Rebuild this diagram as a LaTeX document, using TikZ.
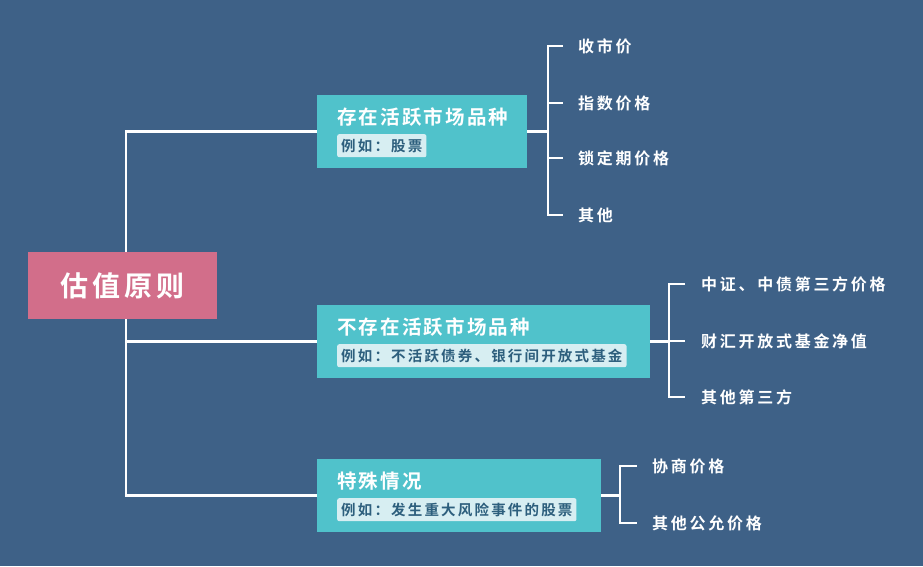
\documentclass[tikz,border=0pt]{standalone}
\usepackage{fontspec}
\setmainfont{Noto Sans CJK SC}[BoldFont={Noto Sans CJK SC Bold}]
\definecolor{bgc}{RGB}{62,97,135}
\definecolor{tealc}{RGB}{80,194,203}
\definecolor{pinkc}{RGB}{210,110,138}
\definecolor{subfill}{RGB}{215,238,242}
\definecolor{subtext}{RGB}{45,95,125}
\tikzset{
  conn/.style={draw=white, line width=2.8pt},
  bigbox/.style={fill=tealc, inner sep=0pt, anchor=north west, minimum height=73pt},
  rootbox/.style={fill=pinkc, inner sep=0pt, minimum width=189pt, minimum height=67pt, text=white,
     font=\fontsize{28}{32}\selectfont\bfseries\addfontfeatures{LetterSpace=14}},
  titletext/.style={anchor=west, inner sep=0pt, text=white,
     font=\fontsize{19.5}{23}\selectfont\bfseries\addfontfeatures{LetterSpace=11}},
  subbox/.style={anchor=north west, fill=subfill, rounded corners=2pt, inner xsep=4pt, inner ysep=0pt,
     minimum height=23pt, text=subtext,
     font=\fontsize{14.5}{17}\selectfont\bfseries\addfontfeatures{LetterSpace=15}},
  leaf/.style={anchor=west, inner sep=0pt, text=white,
     font=\fontsize{16}{19}\selectfont\bfseries\addfontfeatures{LetterSpace=17}},
}
\begin{document}
\begin{tikzpicture}[x=1pt,y=-1pt]
\fill[bgc] (0,0) rectangle (923,566);
\useasboundingbox (0,0) rectangle (923,566);

% branch boxes
\node[bigbox, minimum width=210pt] (b1) at (317,95) {};
\node[bigbox, minimum width=333pt] (b2) at (317,305) {};
\node[bigbox, minimum width=284pt] (b3) at (317,459) {};

\node[titletext] (t1) at (337,117) {存在活跃市场品种};
\node[subbox] (s1) at (337,134) {例如：股票};
\node[titletext] (t2) at (337,327) {不存在活跃市场品种};
\node[subbox] (s2) at (337,344) {例如：不活跃债券、银行间开放式基金};
\node[titletext] (t3) at (337,481) {特殊情况};
\node[subbox] (s3) at (337,498) {例如：发生重大风险事件的股票};

% trunk
\coordinate (tr) at (126,0);
\draw[conn] (b1.west) -| (tr |- b3.west) -- (b3.west);
\draw[conn] (tr |- b2.west) -- (b2.west);

% root
\node[rootbox] (root) at (122.5,285.5) {估值原则};

% leaves branch 1
\node[leaf] (l11) at (578,46) {收市价};
\node[leaf] (l12) at (578,103) {指数价格};
\node[leaf] (l13) at (578,158) {锁定期价格};
\node[leaf] (l14) at (578,215) {其他};
\coordinate (k1) at (548,0);
\draw[conn] (b1.east) -- (k1 |- b1.east);
\draw[conn] ([xshift=-15pt]l11.west) -| (k1 |- l14.west) -- ([xshift=-15pt]l14.west);
\draw[conn] (k1 |- l12.west) -- ([xshift=-15pt]l12.west);
\draw[conn] (k1 |- l13.west) -- ([xshift=-15pt]l13.west);

% leaves branch 2
\node[leaf] (l21) at (701,284) {中证、中债第三方价格};
\node[leaf] (l22) at (701,341) {财汇开放式基金净值};
\node[leaf] (l23) at (701,397) {其他第三方};
\coordinate (k2) at (669,0);
\draw[conn] (b2.east) -- (k2 |- b2.east);
\draw[conn] ([xshift=-16pt]l21.west) -| (k2 |- l23.west) -- ([xshift=-16pt]l23.west);
\draw[conn] (k2 |- l22.west) -- ([xshift=-16pt]l22.west);

% leaves branch 3
\node[leaf] (l31) at (652,466) {协商价格};
\node[leaf] (l32) at (652,523) {其他公允价格};
\coordinate (k3) at (620,0);
\draw[conn] (b3.east) -- (k3 |- b3.east);
\draw[conn] ([xshift=-15pt]l31.west) -| (k3 |- l32.west) -- ([xshift=-15pt]l32.west);
\end{tikzpicture}
\end{document}
